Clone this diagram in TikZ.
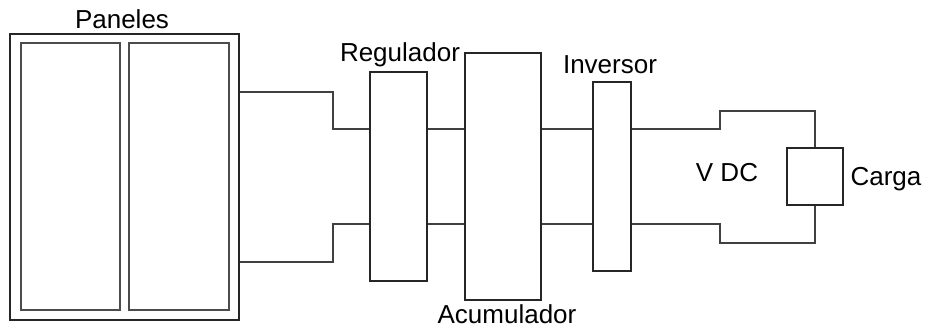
\documentclass[tikz,border=0pt]{standalone}
\usepackage{fontspec}
\setmainfont{Liberation Sans}
\begin{document}
\begin{tikzpicture}[x=1pt,y=-1pt,
  box/.style={draw=black!85,line width=1.8pt,rectangle,inner sep=0pt},
  wire/.style={draw=black!75,line width=1.8pt},
  lbl/.style={inner sep=0pt,font=\fontsize{26}{30}\selectfont,text=black}]
\useasboundingbox (0,0) rectangle (926,329);
% panels
\node[box,line width=2.6pt,minimum width=229pt,minimum height=286pt] (pan) at (124.5,177) {};
\node[box,draw=black!70,minimum width=99pt,minimum height=267pt] (p1) at (70.5,176.5) {};
\node[box,draw=black!70,minimum width=100pt,minimum height=267pt] (p2) at (179,176.5) {};
\node[lbl] (lpan) at (122,19) {Paneles};
% blocks
\node[box,minimum width=57pt,minimum height=209pt] (reg) at (398.5,176.5) {};
\node[box,minimum width=76pt,minimum height=247pt] (acu) at (503,176.5) {};
\node[box,minimum width=38pt,minimum height=189pt] (inv) at (612,176.5) {};
\node[box,minimum width=56pt,minimum height=57pt] (car) at (815,176.5) {};
\node[lbl] (lreg) at (400,55) {Regulador};
\node[lbl] (lacu) at (507,314) {Acumulador};
\node[lbl] (linv) at (610,65) {Inversor};
\node[lbl] (lvdc) at (727,173) {V DC};
\node[lbl] (lcar) at (886,179) {Carga};
% coordinates
\coordinate (yA) at (0,92);
\coordinate (yT) at (0,129);
\coordinate (yB) at (0,224);
\coordinate (yC) at (0,262);
\coordinate (k1) at (333,92);
\coordinate (k2) at (333,262);
\coordinate (m1) at (720,111);
\coordinate (m2) at (720,243);
% wires
\draw[wire] (pan.east |- yA) -- (k1) |- (reg.west |- yT);
\draw[wire] (pan.east |- yC) -- (k2) |- (reg.west |- yB);
\draw[wire] (reg.east |- yT) -- (acu.west |- yT);
\draw[wire] (reg.east |- yB) -- (acu.west |- yB);
\draw[wire] (acu.east |- yT) -- (inv.west |- yT);
\draw[wire] (acu.east |- yB) -- (inv.west |- yB);
\draw[wire] (inv.east |- yT) -| (m1) -| (car.north);
\draw[wire] (inv.east |- yB) -| (m2) -| (car.south);
\end{tikzpicture}
\end{document}
